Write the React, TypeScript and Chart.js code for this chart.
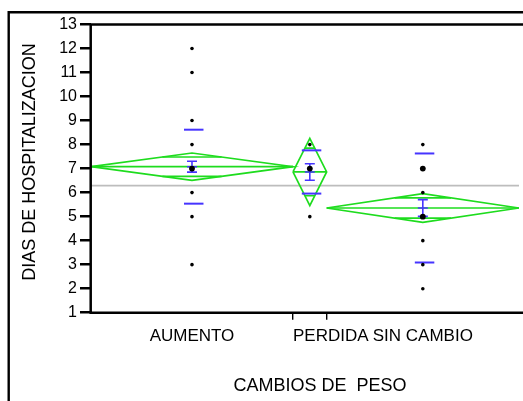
import React, { useEffect, useRef } from "react";
import { Chart, registerables } from "chart.js";

Chart.register(...registerables);

// ---------- data ----------
const groups = ["AUMENTO", "PERDIDA", "SIN CAMBIO"];
const groupN = [42, 7, 40]; // group sizes (x width is proportional to n)
const groupMean = [7.08, 6.86, 5.36];
const groupCI = [0.57, 1.4, 0.6]; // 95% CI half-width (means diamonds)
const groupSD = [1.54, 0.9, 2.27]; // std dev lines
const groupSE = [0.225, 0.345, 0.35]; // std error bars
const grandMean = 6.29;

const aumentoDays = [12, 11, 9, 8, 7, 6, 5, 3];
const perdidaDays = [8, 7, 5];
const sinCambioDays = [8, 7, 6, 5, 4, 3, 2];
const groupDays = [aumentoDays, perdidaDays, sinCambioDays];
const stackedDays = [[7], [7], [7, 5]]; // values shared by many patients (larger marks)

const yTicks = [1, 2, 3, 4, 5, 6, 7, 8, 9, 10, 11, 12, 13];
const yTitle = "DIAS DE HOSPITALIZACION";
const xTitle = "CAMBIOS DE  PESO";

// ---------- styling ----------
const FONT = "'Liberation Sans', Arial, Helvetica, sans-serif";
const GREEN = "#1edc1e";
const BLUE = "#4634ff";
const GRAY = "#bdbdbd";

export default function App() {
  const ref = useRef<HTMLCanvasElement>(null);

  useEffect(() => {
    if (!ref.current) return;
    const starts = groupN.map((_, i) => groupN.slice(0, i).reduce((a, b) => a + b, 0));
    const totalN = groupN.reduce((a, b) => a + b, 0);
    const centers = starts.map((s, i) => s + groupN[i] / 2);
    const boundaries = starts.slice(1);

    const lineStyle = (color: string, width: number, order: number) => ({
      type: "line" as const,
      borderColor: color,
      borderWidth: width,
      pointRadius: 0,
      fill: false,
      tension: 0,
      showLine: true,
      order,
    });

    const datasets: any[] = [];
    // points (drawn on top: lowest order)
    const pts: { x: number; y: number }[] = [];
    const radii: number[] = [];
    groupDays.forEach((vals, i) => {
      vals.forEach((v) => {
        pts.push({ x: centers[i], y: v });
        radii.push(stackedDays[i].includes(v) ? 2.9 : 1.8);
      });
    });
    datasets.push({
      type: "scatter",
      data: pts,
      pointRadius: radii,
      pointBackgroundColor: "#000",
      pointBorderWidth: 0,
      showLine: false,
      order: 0,
    });
    // grand mean (bottom)
    datasets.push({
      ...lineStyle(GRAY, 1.8, 5),
      data: [
        { x: 0, y: grandMean },
        { x: totalN, y: grandMean },
      ],
    });
    groups.forEach((_, i) => {
      const s = starts[i];
      const e = s + groupN[i];
      const c = centers[i];
      const m = groupMean[i];
      const ci = groupCI[i];
      const d = ci / Math.SQRT2;
      const hw = (groupN[i] / 2) * (1 - 1 / Math.SQRT2);
      datasets.push({
        ...lineStyle(GREEN, 1.7, 2),
        data: [
          { x: s, y: m },
          { x: c, y: m + ci },
          { x: e, y: m },
          { x: c, y: m - ci },
          { x: s, y: m },
        ],
      });
      datasets.push({ ...lineStyle(GREEN, 1.7, 2), data: [{ x: s, y: m }, { x: e, y: m }] });
      datasets.push({ ...lineStyle(GREEN, 1.7, 2), data: [{ x: c - hw, y: m + d }, { x: c + hw, y: m + d }] });
      datasets.push({ ...lineStyle(GREEN, 1.7, 2), data: [{ x: c - hw, y: m - d }, { x: c + hw, y: m - d }] });
    });

    const marks = {
      id: "jmpMarks",
      beforeDatasetDraw(chart: any, args: any) {
        if (args.index !== 0) return;
        const { ctx } = chart;
        const x = chart.scales.x;
        const y = chart.scales.y;
        ctx.save();
        ctx.strokeStyle = BLUE;
        groups.forEach((_, i) => {
          const cx = x.getPixelForValue(centers[i]);
          const m = groupMean[i];
          // std dev lines
          ctx.lineWidth = 2;
          [m + groupSD[i], m - groupSD[i]].forEach((v) => {
            const py = y.getPixelForValue(v);
            ctx.beginPath();
            ctx.moveTo(cx - 8, py);
            ctx.lineTo(cx + 11.5, py);
            ctx.stroke();
          });
          // std error bar
          const top = y.getPixelForValue(m + groupSE[i]);
          const bot = y.getPixelForValue(m - groupSE[i]);
          const mid = y.getPixelForValue(m);
          ctx.lineWidth = 1.6;
          ctx.beginPath();
          ctx.moveTo(cx, top);
          ctx.lineTo(cx, bot);
          [top, bot, mid].forEach((py) => {
            ctx.moveTo(cx - 5, py);
            ctx.lineTo(cx + 5, py);
          });
          ctx.stroke();
        });
        ctx.restore();
      },
      afterDraw(chart: any) {
        const { ctx, chartArea } = chart;
        const x = chart.scales.x;
        ctx.save();
        ctx.strokeStyle = "#000";
        // outer frame
        ctx.lineWidth = 2.4;
        ctx.beginPath();
        ctx.moveTo(8.7, 401);
        ctx.lineTo(8.7, 12.2);
        ctx.lineTo(523, 12.2);
        ctx.stroke();
        // plot frame
        ctx.lineWidth = 2.5;
        ctx.beginPath();
        ctx.moveTo(523, chartArea.top);
        ctx.lineTo(chartArea.left - 0.3, chartArea.top);
        ctx.lineTo(chartArea.left - 0.3, chartArea.bottom);
        ctx.lineTo(523, chartArea.bottom);
        ctx.stroke();

        ctx.fillStyle = "#000";
        ctx.textBaseline = "alphabetic";
        ctx.textAlign = "center";
        ctx.font = `17px ${FONT}`;
        groups.forEach((g, i) => {
          const w = ctx.measureText(g).width;
          const left = x.getPixelForValue(starts[i]);
          const cx = Math.max(x.getPixelForValue(centers[i]), left + w / 2);
          ctx.fillText(g, cx, 341);
        });
        ctx.font = `18px ${FONT}`;
        ctx.fillText(xTitle, 320, 391);
        ctx.translate(35, 162);
        ctx.rotate(-Math.PI / 2);
        ctx.fillText(yTitle, 0, 0);
        ctx.restore();
      },
    };

    const chart = new Chart(ref.current, {
      type: "scatter",
      data: { datasets },
      options: {
        animation: false,
        responsive: false,
        devicePixelRatio: 1,
        layout: { padding: { top: 24.5, left: 0, right: 0, bottom: 0 } },
        plugins: { legend: { display: false }, tooltip: { enabled: false } },
        scales: {
          x: {
            type: "linear",
            min: 0,
            max: totalN,
            border: { display: false },
            grid: { drawOnChartArea: false, drawTicks: true, tickLength: 7, lineWidth: 1.4, color: "#000" },
            ticks: { autoSkip: false, callback: () => "" },
            afterBuildTicks: (axis: any) => {
              axis.ticks = boundaries.map((v) => ({ value: v }));
            },
            afterFit: (axis: any) => {
              axis.height = 88.3;
            },
          },
          y: {
            type: "linear",
            min: yTicks[0],
            max: yTicks[yTicks.length - 1],
            border: { display: false },
            grid: { drawOnChartArea: false, drawTicks: true, tickLength: 11, lineWidth: 2.5, color: "#000" },
            ticks: {
              stepSize: 1,
              autoSkip: false,
              padding: 3,
              color: "#000",
              font: { family: FONT, size: 16 },
            },
            afterBuildTicks: (axis: any) => {
              axis.ticks = yTicks.map((v) => ({ value: v }));
            },
            afterFit: (axis: any) => {
              axis.width = 91;
            },
          },
        },
      },
      plugins: [marks],
    } as any);
    return () => chart.destroy();
  }, []);

  return (
    <div style={{ position: "fixed", left: 0, top: 0, width: 523, height: 401, background: "#fff" }}>
      <canvas ref={ref} width={523} height={401} style={{ width: 523, height: 401, display: "block" }} />
    </div>
  );
}
